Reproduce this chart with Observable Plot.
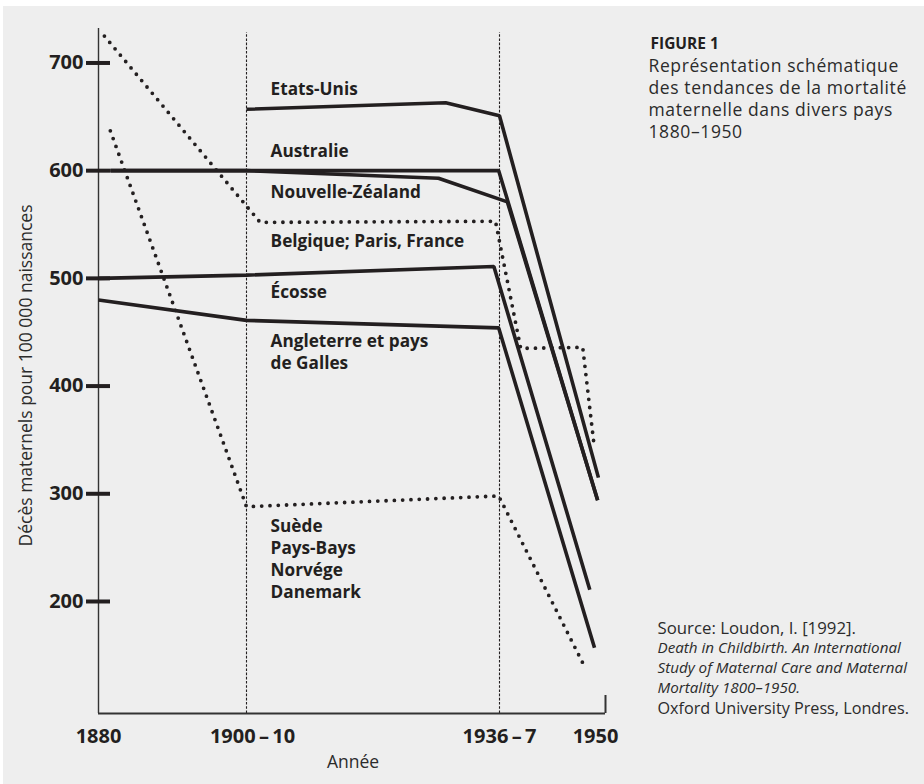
<!DOCTYPE html>
<html>
<head>
<meta charset="utf-8">
<script src="https://cdn.jsdelivr.net/npm/d3@7"></script>
<script src="https://cdn.jsdelivr.net/npm/@observablehq/plot@0.6"></script>
<style>
  html, body { margin: 0; padding: 0; background: #ffffff; }
  #page { position: relative; width: 924px; height: 784px; overflow: hidden; }
  #panel { position: absolute; left: 3px; top: 6px; right: 0; bottom: 0; background: #eeeeee; }
  #chart { position: absolute; left: 0; top: 0; }
</style>
</head>
<body>
<div id="page">
  <div id="panel"></div>
  <div id="chart"></div>
</div>
<script>
// ---- Axis ticks (schematic x axis: period marks) ----
const xTickValues = [1880, 1905, 1936.5, 1950];
const xTickLabels = ["1880", "1900\u2009–\u200910", "1936\u2009–\u20097", "1950"];
const yTickValues = [200, 300, 400, 500, 600, 700];
const periodLines = [1905, 1936.5];

// ---- Series (schematic year, deaths per 100 000 births) ----
const etatsUnisYears = [1905, 1929.8, 1936.5, 1949.1];
const etatsUnisRates = [657, 663, 651, 315];

const australieYears = [1882, 1936.4, 1949.0];
const australieRates = [600, 600, 294];

const nouvelleZelandeYears = [1882, 1905, 1928.9, 1937.5, 1949.0];
const nouvelleZelandeRates = [600, 600, 593, 571, 294];

const belgiqueYears = [1881, 1906.7, 1936.0, 1939.2, 1947.1, 1948.5];
const belgiqueRates = [725, 552, 553, 435, 436, 348];

const ecosseYears = [1880, 1905, 1935.8, 1948.0];
const ecosseRates = [500, 503, 511, 211];

const angleterreYears = [1880, 1905, 1936.4, 1948.6];
const angleterreRates = [480, 461, 454, 157];

const scandinavieYears = [1882, 1905, 1936.4, 1947.1];
const scandinavieRates = [637, 288, 298, 143];

// ---- Labels (text, anchor year, anchor rate of last baseline) ----
const labelTexts = ["Etats-Unis", "Australie", "Nouvelle-Zéaland", "Belgique; Paris, France",
  "Écosse", "Angleterre et pays\nde Galles", "Suède\nPays-Bays\nNorvége\nDanemark"];
const labelYears = [1908, 1908, 1908, 1908, 1908, 1908, 1908];
const labelRates = [670, 612.5, 574.5, 529, 481.5, 415.5, 203.5];

// ---- Texts ----
const yTitle = "Décès maternels pour 100 000 naissances";
const xTitle = "Année";
const figureNumber = "FIGURE 1";
const figureTitle = "Représentation schématique\ndes tendances de la mortalité\nmaternelle dans divers pays\n1880–1950";
const sourceLead = "Source: Loudon, I. [1992].";
const sourceBook = "Death in Childbirth. An International\nStudy of Maternal Care and Maternal\nMortality 1800–1950.";
const sourcePublisher = "Oxford University Press, Londres.";

// ---- Build tables ----
const seriesList = [
  {name: "Etats-Unis", years: etatsUnisYears, rates: etatsUnisRates, dotted: false},
  {name: "Australie", years: australieYears, rates: australieRates, dotted: false},
  {name: "Nouvelle-Zéaland", years: nouvelleZelandeYears, rates: nouvelleZelandeRates, dotted: false},
  {name: "Belgique; Paris, France", years: belgiqueYears, rates: belgiqueRates, dotted: true},
  {name: "Écosse", years: ecosseYears, rates: ecosseRates, dotted: false},
  {name: "Angleterre et pays de Galles", years: angleterreYears, rates: angleterreRates, dotted: false},
  {name: "Suède, Pays-Bays, Norvége, Danemark", years: scandinavieYears, rates: scandinavieRates, dotted: true}
];
const rows = seriesList.flatMap(s => s.years.map((yr, i) => ({series: s.name, year: yr, rate: s.rates[i], dotted: s.dotted})));
const labels = labelTexts.map((t, i) => ({text: t, year: labelYears[i], rate: labelRates[i]}));
const xTicks = xTickValues.map((v, i) => ({value: v, label: xTickLabels[i]}));

const ink = "#231f20";
const soft = "#2b2b2b";
const width = 924, height = 784;
const mL = 98, mR = 319, mT = 28, mB = 71;
const frameRight = width - mR; // 605

const chart = Plot.plot({
  width, height,
  marginLeft: mL, marginRight: mR, marginTop: mT, marginBottom: mB,
  style: {background: "transparent", fontFamily: "Open Sans, sans-serif", color: ink, overflow: "visible"},
  x: {type: "linear", domain: xTickValues, range: [mL, 246, 499, frameRight], axis: null},
  y: {domain: [96, 732], axis: null},
  marks: [
    // period dashed lines
    Plot.ruleX(periodLines, {y1: 96, y2: 732, stroke: ink, strokeWidth: 1.1, strokeDasharray: "2.6,1.6", insetBottom: -4}),
    // axes lines
    Plot.ruleX([1880], {y1: 96, y2: 732, stroke: "#333", strokeWidth: 1.4}),
    Plot.ruleY([96], {x1: 1880, x2: 1950, stroke: "#333", strokeWidth: 2}),
    Plot.ruleX([1950], {y1: 96, y2: 96, insetTop: -18, stroke: "#333", strokeWidth: 2}),
    // y ticks crossing the axis
    Plot.ruleY(yTickValues, {x1: 1880, x2: 1880, insetLeft: -12, insetRight: -12, stroke: ink, strokeWidth: 4}),
    Plot.text(yTickValues, {y: d => d, text: d => String(d), frameAnchor: "left", textAnchor: "end", dx: -15,
      fontSize: 20, fontWeight: "bold", fill: ink}),
    // x tick labels
    Plot.text(xTicks.filter((d, i) => i === 0 || i === 2), {x: "value", text: "label", frameAnchor: "bottom", lineAnchor: "bottom", dy: 29,
      fontSize: 20, fontWeight: "bold", fill: ink}),
    Plot.text(xTicks.filter((d, i) => i === 1), {x: "value", text: "label", frameAnchor: "bottom", lineAnchor: "bottom", dy: 29, dx: 6,
      fontSize: 20, fontWeight: "bold", fill: ink}),
    Plot.text(xTicks.filter((d, i) => i === 3), {x: "value", text: "label", frameAnchor: "bottom", lineAnchor: "bottom", dy: 29, dx: -10,
      fontSize: 20, fontWeight: "bold", fill: ink}),
    // axis titles
    Plot.text([xTitle], {frameAnchor: "bottom", lineAnchor: "bottom", dy: 54, dx: 1, fontSize: 17.5, fill: soft}),
    Plot.text([yTitle], {frameAnchor: "left", rotate: -90, textAnchor: "middle", lineAnchor: "middle", dx: -72, dy: 4.5,
      fontSize: 17.5, fill: soft}),
    // series lines
    Plot.line(rows.filter(d => !d.dotted), {x: "year", y: "rate", z: "series", stroke: ink, strokeWidth: 3.6,
      strokeLinejoin: "miter", strokeLinecap: "butt"}),
    Plot.line(rows.filter(d => d.dotted), {x: "year", y: "rate", z: "series", stroke: ink, strokeWidth: 3.8,
      strokeDasharray: "0,8.3", strokeLinecap: "round"}),
    // series labels
    Plot.text(labels, {x: "year", y: "rate", text: "text", textAnchor: "start", lineAnchor: "bottom", lineHeight: 22 / 17.2,
      fontSize: 17.2, fontWeight: "bold", fill: ink}),
    // figure title (right column)
    Plot.text([figureNumber], {frameAnchor: "top-right", textAnchor: "start", lineAnchor: "bottom", dx: 45, dy: 20,
      fontSize: 15.5, fontWeight: "bold", fill: ink}),
    Plot.text([figureTitle], {frameAnchor: "top-right", textAnchor: "start", lineAnchor: "bottom", dx: 43, dy: 109.7,
      fontSize: 17.5, lineHeight: 22 / 17.5, fill: soft}),
    // source (right column, bottom)
    Plot.text([sourceLead], {frameAnchor: "bottom-right", textAnchor: "start", lineAnchor: "bottom", dx: 52, dy: -80,
      fontSize: 16.8, fill: soft}),
    Plot.text([sourceBook], {frameAnchor: "bottom-right", textAnchor: "start", lineAnchor: "bottom", dx: 52, dy: -20.8,
      fontSize: 15.2, fontStyle: "italic", lineHeight: 19.8 / 15.2, fill: soft}),
    Plot.text([sourcePublisher], {frameAnchor: "bottom-right", textAnchor: "start", lineAnchor: "bottom", dx: 52, dy: 0,
      fontSize: 16.2, fill: soft})
  ]
});
// slight tracking on the figure title to match the reference's wider face
for (const t of chart.querySelectorAll("text")) {
  if (t.textContent.startsWith("Représentation")) t.style.letterSpacing = "0.6px";
}
document.getElementById("chart").appendChild(chart);
</script>
</body>
</html>
